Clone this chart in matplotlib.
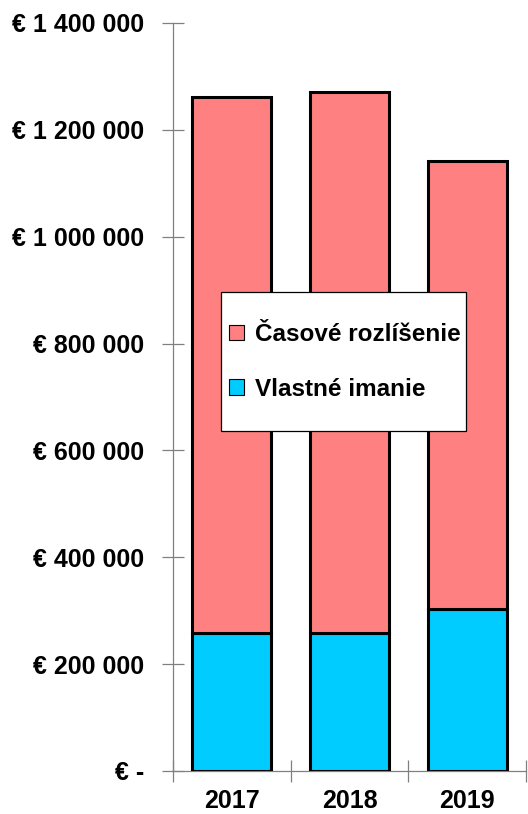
import matplotlib
matplotlib.use("Agg")
import matplotlib.pyplot as plt
from matplotlib.patches import Patch, Rectangle

years = ["2017", "2018", "2019"]
vlastne_imanie = [258000, 258000, 303000]
casove_rozlisenie = [1004000, 1013000, 839000]
ytick_values = [0, 200000, 400000, 600000, 800000, 1000000, 1200000, 1400000]
ytick_labels = ["€ -", "€ 200 000", "€ 400 000", "€ 600 000", "€ 800 000",
                "€ 1 000 000", "€ 1 200 000", "€ 1 400 000"]

plt.rcParams['font.family'] = ['Liberation Sans', 'DejaVu Sans']

W, H = 528, 814
fig = plt.figure(figsize=(W / 100, H / 100), dpi=100)
ax = fig.add_axes([173 / W, 43 / H, (526 - 173) / W, (771 - 23) / H])

x = range(len(years))
blue = "#00CCFF"
red = "#FF8080"
ax.bar(x, vlastne_imanie, width=0.67, color=blue, edgecolor="black", linewidth=2.2, zorder=3)
ax.bar(x, casove_rozlisenie, width=0.67, bottom=vlastne_imanie, color=red,
       edgecolor="black", linewidth=2.2, zorder=3)

ax.set_xlim(-0.5, 2.5)
ax.set_ylim(0, 1400000)
ax.set_yticks(ytick_values)
ax.set_yticklabels(ytick_labels, fontsize=18, fontweight="bold")
ax.set_xticks([-0.5, 0.5, 1.5, 2.5])
ax.set_xticklabels([])
ax.set_xticks([0, 1, 2], minor=True)
ax.set_xticklabels(years, minor=True, fontsize=18, fontweight="bold")
ax.tick_params(axis="x", which="minor", length=0, pad=13)
ax.tick_params(axis="x", which="major", direction="inout", length=16, width=0.9, color="#808080")
ax.tick_params(axis="y", direction="inout", length=16, width=0.9, color="#808080", pad=12.5)

for s in ["top", "right"]:
    ax.spines[s].set_visible(False)
for s in ["left", "bottom"]:
    ax.spines[s].set_color("#808080")
    ax.spines[s].set_linewidth(0.9)

# legend frame
frame = Rectangle((221 / W, 1 - 431 / H), (466 - 221) / W, (431 - 292) / H,
                  transform=fig.transFigure, facecolor="white", edgecolor="black",
                  linewidth=0.9, zorder=5)
fig.add_artist(frame)

handles = [Patch(facecolor=red, edgecolor="black", linewidth=0.8),
           Patch(facecolor=blue, edgecolor="black", linewidth=0.8)]
leg = fig.legend(handles, ["Časové rozlíšenie", "Vlastné imanie"],
                 loc="upper left", bbox_to_anchor=(229 / W, 1 - 323 / H),
                 prop={"size": 17.5, "weight": "bold"}, frameon=False,
                 borderpad=0, labelspacing=1.3,
                 handlelength=0.62, handleheight=0.62, handletextpad=0.45,
                 borderaxespad=0)
leg.set_zorder(6)

fig.savefig("out.png", dpi=100)
